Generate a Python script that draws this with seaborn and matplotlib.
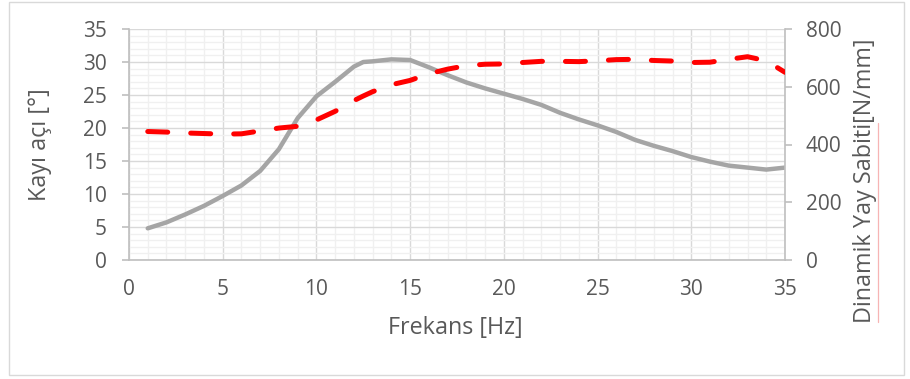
import matplotlib
matplotlib.use("Agg")
import matplotlib.pyplot as plt
from matplotlib.ticker import MultipleLocator
from matplotlib.patches import Rectangle
from matplotlib.lines import Line2D
import seaborn as sns
import pandas as pd

# ---- data ----
freq = [1, 2, 3, 4, 5, 6, 7, 8, 9, 10, 11, 12, 12.5, 13, 14, 15, 16, 17, 18, 19, 20,
        21, 22, 23, 24, 25, 26, 27, 28, 29, 30, 31, 32, 33, 34, 35]
kayi_aci = [4.8, 5.7, 6.9, 8.2, 9.7, 11.3, 13.5, 16.8, 21.5, 24.8, 27.0, 29.3, 30.0, 30.1, 30.4,
            30.3, 29.2, 28.0, 26.9, 26.0, 25.2, 24.4, 23.5, 22.3, 21.3, 20.4, 19.4, 18.2,
            17.3, 16.5, 15.6, 14.9, 14.3, 14.0, 13.7, 14.0]
yay_sabiti = [445, 443, 440, 438, 436, 437, 447, 457, 463, 485, 515, 552, 568, 583, 607,
              622, 645, 661, 673, 678, 679, 684, 688, 688, 687, 690, 694, 695, 691, 689,
              684, 685, 695, 704, 690, 650]
x_ticks = [0, 5, 10, 15, 20, 25, 30, 35]
y1_ticks = [0, 5, 10, 15, 20, 25, 30, 35]
y2_ticks = [0, 200, 400, 600, 800]

df = pd.DataFrame({"Frekans": freq, "Kayi": kayi_aci, "Yay": yay_sabiti})

sns.set_style("white")
plt.rcParams["font.family"] = ["Open Sans", "DejaVu Sans"]
TXT = "#595959"
AX = "#bfbfbf"

fig = plt.figure(figsize=(9.1, 3.79), dpi=100)
ax = fig.add_axes([129 / 910, 1 - 260 / 379, (785 - 129) / 910, (260 - 29) / 379])

# figure border
fig.patches.append(Rectangle((9 / 910, 1 - 375 / 379), (904 - 9) / 910, (375 - 2) / 379,
                             transform=fig.transFigure, fill=False, edgecolor="#d9d9d9",
                             linewidth=1.0, zorder=0))

sns.lineplot(data=df, x="Frekans", y="Kayi", ax=ax, color="#a5a5a5", linewidth=3.2,
             zorder=3)
gl = ax.get_lines()[0]
gl.set_solid_capstyle("round")
gl.set_solid_joinstyle("round")
ax2 = ax.twinx()
sns.lineplot(data=df, x="Frekans", y="Yay", ax=ax2, color="#ff0000", linewidth=3.6,
             zorder=3)
line = ax2.get_lines()[0]
line.set_dashes([4, 4.6])
line.set_dash_capstyle("round")
line.set_dash_joinstyle("round")

ax.set_xlim(0, 35)
ax.set_ylim(0, 35)
ax2.set_ylim(0, 800)
ax.set_xticks(x_ticks)
ax.set_yticks(y1_ticks)
ax2.set_yticks(y2_ticks)
ax.xaxis.set_minor_locator(MultipleLocator(1))
ax.yaxis.set_minor_locator(MultipleLocator(1))

ax.grid(which="major", color="#d9d9d9", linewidth=1.0, zorder=0)
ax.grid(which="minor", color="#f0f0f0", linewidth=1.0, zorder=0)
ax.set_axisbelow(True)
ax2.grid(False)

for a in (ax, ax2):
    for s in a.spines.values():
        s.set_visible(False)
ax.spines["left"].set_visible(True)
ax.spines["bottom"].set_visible(True)
ax2.spines["right"].set_visible(True)
for s in (ax.spines["left"], ax.spines["bottom"], ax2.spines["right"]):
    s.set_color(AX)
    s.set_linewidth(1.2)

fs = 15
lfs = 16.8
ax.tick_params(axis="both", which="major", direction="out", length=5, width=1.2,
               color=AX, labelcolor=TXT, labelsize=fs)
ax.tick_params(axis="y", pad=11)
ax.tick_params(axis="x", pad=9)
ax.tick_params(axis="both", which="minor", length=0)
ax2.tick_params(axis="y", which="major", direction="out", length=5, width=1.2,
                color=AX, labelcolor=TXT, labelsize=fs, pad=10)

ax.set_xlabel("")
ax.set_ylabel("")
ax2.set_ylabel("")
fig.text(455 / 910, 1 - 328 / 379, "Frekans [Hz]", ha="center", va="center",
         color=TXT, fontsize=lfs)
fig.text(40 / 910, 1 - 145 / 379, "Kayı açı [°]", ha="center", va="center",
         rotation=90, color=TXT, fontsize=lfs)
fig.text(865 / 910, 1 - 181 / 379, "Dinamik Yay Sabiti[N/mm]", ha="center", va="center",
         rotation=90, color=TXT, fontsize=lfs)
# spell-check underline beside the rotated right label
fig.lines.append(Line2D([878 / 910, 878 / 910], [1 - 322 / 379, 1 - 123 / 379],
                        transform=fig.transFigure, color="#f7b4b4", linewidth=0.9))

fig.savefig("out.png", dpi=100)
